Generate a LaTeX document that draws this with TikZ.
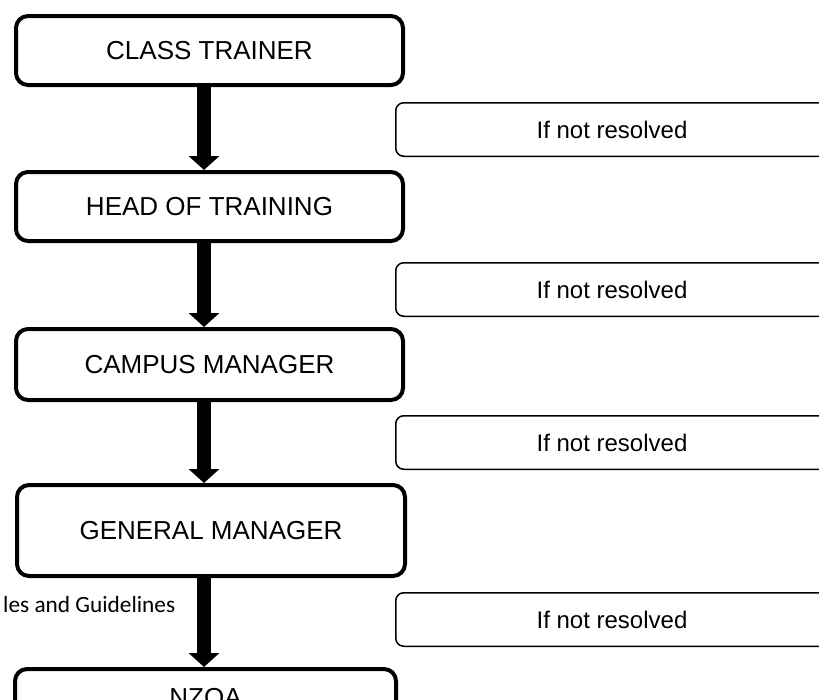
\documentclass[tikz,border=0pt]{standalone}
\usepackage{fontspec}
\setmainfont{Liberation Sans}
\newfontfamily\calfont{Carlito}
\usetikzlibrary{arrows.meta}
\tikzset{
  mainbox/.style={draw=black, line width=4pt, rounded corners=12pt, fill=white,
    inner sep=0pt, align=center, font=\fontsize{26}{30}\selectfont},
  sidebox/.style={draw=black, line width=1.5pt, rounded corners=8pt, fill=white,
    inner sep=0pt, align=center, minimum width=432.5pt, minimum height=53.5pt,
    font=\fontsize{24}{28}\selectfont},
  flowarrow/.style={line width=14pt, -{Triangle[width=30pt,length=14pt]}},
  sidetext/.style={inner sep=0pt, anchor=base west, font=\calfont\fontsize{23.3}{27}\selectfont}
}
\begin{document}
\begin{tikzpicture}[x=1pt,y=-1pt]
\useasboundingbox (0,0) rectangle (819,699);
\coordinate (ax) at (204,0);
% main chain
\node[mainbox, minimum width=387pt, minimum height=69pt] (ct) at (209.5,50.5) {CLASS TRAINER};
\node[mainbox, minimum width=387pt, minimum height=69pt] (ht) at (209.5,206.5) {HEAD OF TRAINING};
\node[mainbox, minimum width=387pt, minimum height=71pt] (cm) at (209.5,364.5) {CAMPUS MANAGER};
\node[mainbox, minimum width=388pt, minimum height=91pt] (gm) at (211,530.5) {GENERAL MANAGER};
\node[mainbox, minimum width=381pt, minimum height=62pt] (nz) at (205.5,700) {NZQA};
% arrows
\draw[flowarrow] (ct.south -| ax) -- (ht.north -| ax);
\draw[flowarrow] (ht.south -| ax) -- (cm.north -| ax);
\draw[flowarrow] (cm.south -| ax) -- (gm.north -| ax);
\draw[flowarrow] (gm.south -| ax) -- (nz.north -| ax);
% side boxes
\node[sidebox] (s1) at (612,129.5) {If not resolved};
\node[sidebox] (s2) at (612,289.5) {If not resolved};
\node[sidebox] (s3) at (612,442.5) {If not resolved};
\node[sidebox] (s4) at (612,619.5) {If not resolved};
% partial text
\node[sidetext] (rg) at (3,612) {les and Guidelines};
\end{tikzpicture}
\end{document}
